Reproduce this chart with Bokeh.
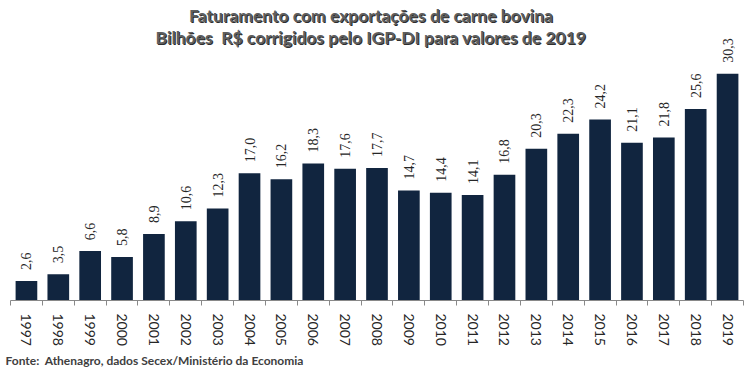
import math
from bokeh.plotting import figure
from bokeh.models import (ColumnDataSource, LinearAxis, FixedTicker, Range1d,
                          Label, LabelSet, Title)
from bokeh.embed import file_html
from bokeh.resources import INLINE

years = ["1997", "1998", "1999", "2000", "2001", "2002", "2003", "2004",
         "2005", "2006", "2007", "2008", "2009", "2010", "2011", "2012",
         "2013", "2014", "2015", "2016", "2017", "2018", "2019"]
values = [2.6, 3.5, 6.6, 5.8, 8.9, 10.6, 12.3, 17.0, 16.2, 18.3, 17.6, 17.7,
          14.7, 14.4, 14.1, 16.8, 20.3, 22.3, 24.2, 21.1, 21.8, 25.6, 30.3]
value_labels = [f"{v:.1f}".replace(".", ",") for v in values]
title_lines = ["Faturamento com exportações de carne bovina",
               "Bilhões \u00a0R$ corrigidos pelo IGP-DI para valores de 2019"]
source_note = "Fonte: \u00a0Athenagro, dados Secex/Ministério da Economia"

BAR = "#11253f"
FONT = "Lato"

idx = list(range(len(years)))
src = ColumnDataSource(dict(x=idx, top=values, label=value_labels))

p = figure(width=752, height=370,
           x_range=Range1d(-0.5, len(years) - 0.5), y_range=Range1d(0, 40.1),
           output_backend="svg", toolbar_location=None,
           x_axis_location=None, y_axis_location=None,
           min_border_left=10, min_border_right=9, min_border_top=0,
           min_border_bottom=67)
p.grid.visible = False
p.outline_line_color = None
p.background_fill_color = "white"
p.border_fill_color = "white"

p.vbar(x="x", top="top", width=0.68, bottom=0, source=src,
       fill_color=BAR, line_color=None)

labels = LabelSet(x="x", y="top", text="label", source=src, angle=math.pi / 2,
                  text_align="left", text_baseline="middle", y_offset=11,
                  text_font=FONT, text_font_size="14px", text_color="#262626")
p.add_layout(labels)

ticker = FixedTicker(ticks=idx, minor_ticks=[i - 0.5 for i in range(len(years) + 1)])
ax = LinearAxis(ticker=ticker)
ax.major_label_overrides = {i: y for i, y in enumerate(years)}
ax.major_label_orientation = "vertical"
ax.major_label_text_font = FONT
ax.major_label_text_font_size = "14px"
ax.major_label_text_color = "#262626"
ax.major_tick_line_color = None
ax.major_tick_out = 0
ax.major_tick_in = 0
ax.minor_tick_line_color = "#898989"
ax.minor_tick_out = 5
ax.minor_tick_in = 0
ax.axis_line_color = "#898989"
ax.major_label_standoff = 8
p.add_layout(ax, "below")

for line, yy in zip(title_lines, [38.08, 35.16]):
    for dx, dy, col in [(1, -1, "#2e2e2e"), (0, 0, "#5f5f5f")]:
        p.add_layout(Label(x=(len(years) - 1) / 2, y=yy, x_offset=-6 + dx,
                           y_offset=dy, text=line,
                           text_align="center", text_baseline="middle",
                           text_font=FONT, text_font_style="bold",
                           text_font_size="17.5px", text_color=col))

p.add_layout(Title(text=source_note, align="left", offset=-5, standoff=5,
                   text_font=FONT, text_font_style="bold",
                   text_font_size="12px", text_color="#404040"), "below")

open("out.html", "w").write(file_html(p, INLINE))
